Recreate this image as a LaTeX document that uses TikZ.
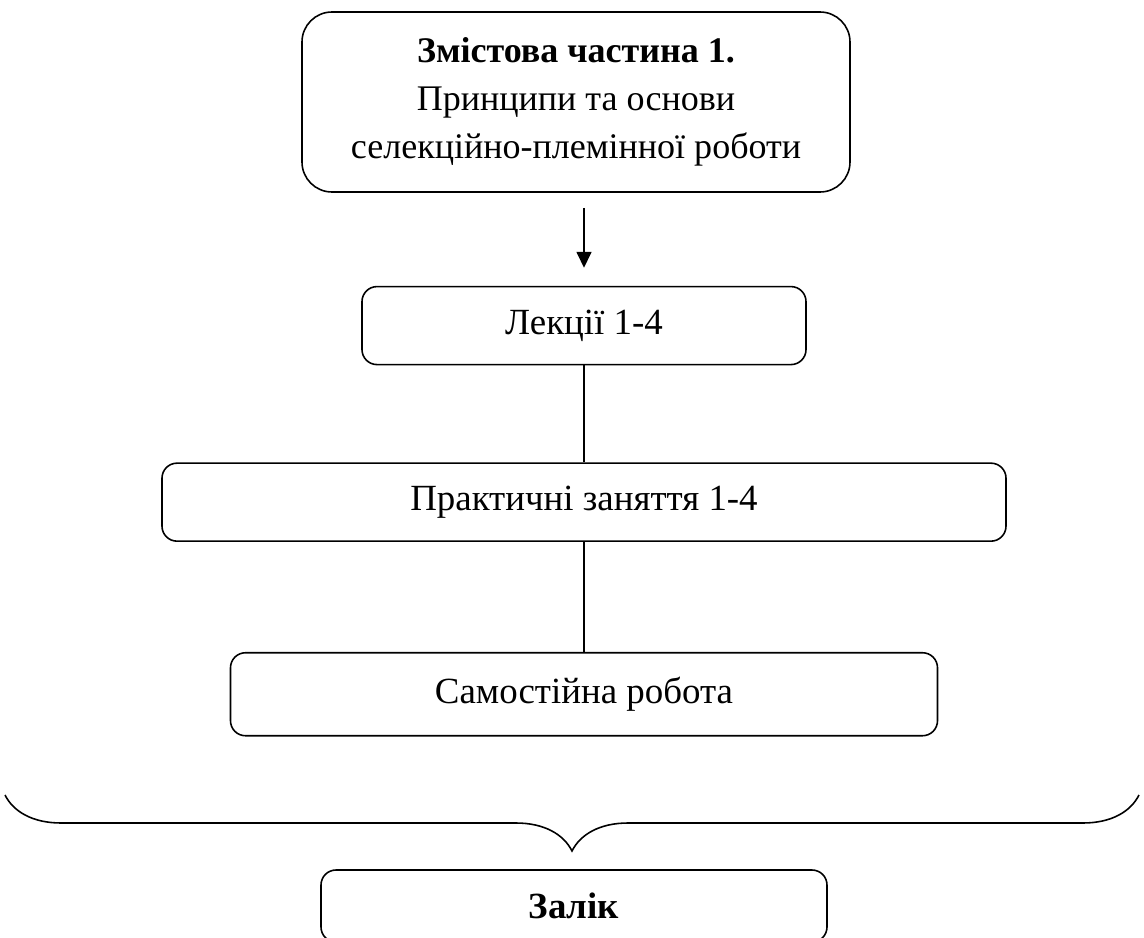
\documentclass[tikz,border=0pt]{standalone}
\usepackage{fontspec}
\setmainfont{Liberation Serif}
\usetikzlibrary{arrows.meta, positioning, decorations.pathreplacing}

\begin{document}
\begin{tikzpicture}[
    block/.style={draw, line width=0.9pt, rounded corners=0.3cm, align=center,
                  font=\fontsize{21}{26}\selectfont, inner sep=0pt},
    topblock/.style={block, rounded corners=0.6cm, font=\fontsize{20.5}{27.5}\selectfont},
    >={Triangle[width=0.3cm, length=0.32cm]}, node distance=1.9cm
  ]
    \clip (0,0) rectangle (22.88,-18.76);
    \node[topblock, minimum width=10.96cm, minimum height=3.6cm] (top) at (11.52,-2.04)
      {\textbf{Змістова частина 1.}\\Принципи та основи\\селекційно-племінної роботи};
    \node[block, minimum width=8.88cm, minimum height=1.56cm,
          below=1.86cm of top, xshift=0.16cm] (lec) {Лекції 1-4};
    \node[block, minimum width=16.88cm, minimum height=1.56cm,
          below=1.94cm of lec] (prak) {Практичні заняття 1-4};
    \node[block, minimum width=14.14cm, minimum height=1.66cm,
          below=2.2cm of prak] (sam) {Самостійна робота};
    \node[block, minimum width=10.12cm, minimum height=1.44cm] (zal) at (11.48,-18.12)
      {\textbf{Залік}};
    % brace over everything
    \coordinate (bl) at (0.1,-15.9);
    \coordinate (br) at (22.78,-15.9);
    \draw[line width=0.9pt, decorate, decoration={brace, mirror, amplitude=1.12cm}] (bl) -- (br);
    \draw[->, line width=0.9pt, shorten <=0.3cm, shorten >=0.36cm] (top.south -| lec.north) -- (lec.north);
    \draw[line width=0.9pt] (lec) -- (prak) -- (sam);
\end{tikzpicture}
\end{document}
